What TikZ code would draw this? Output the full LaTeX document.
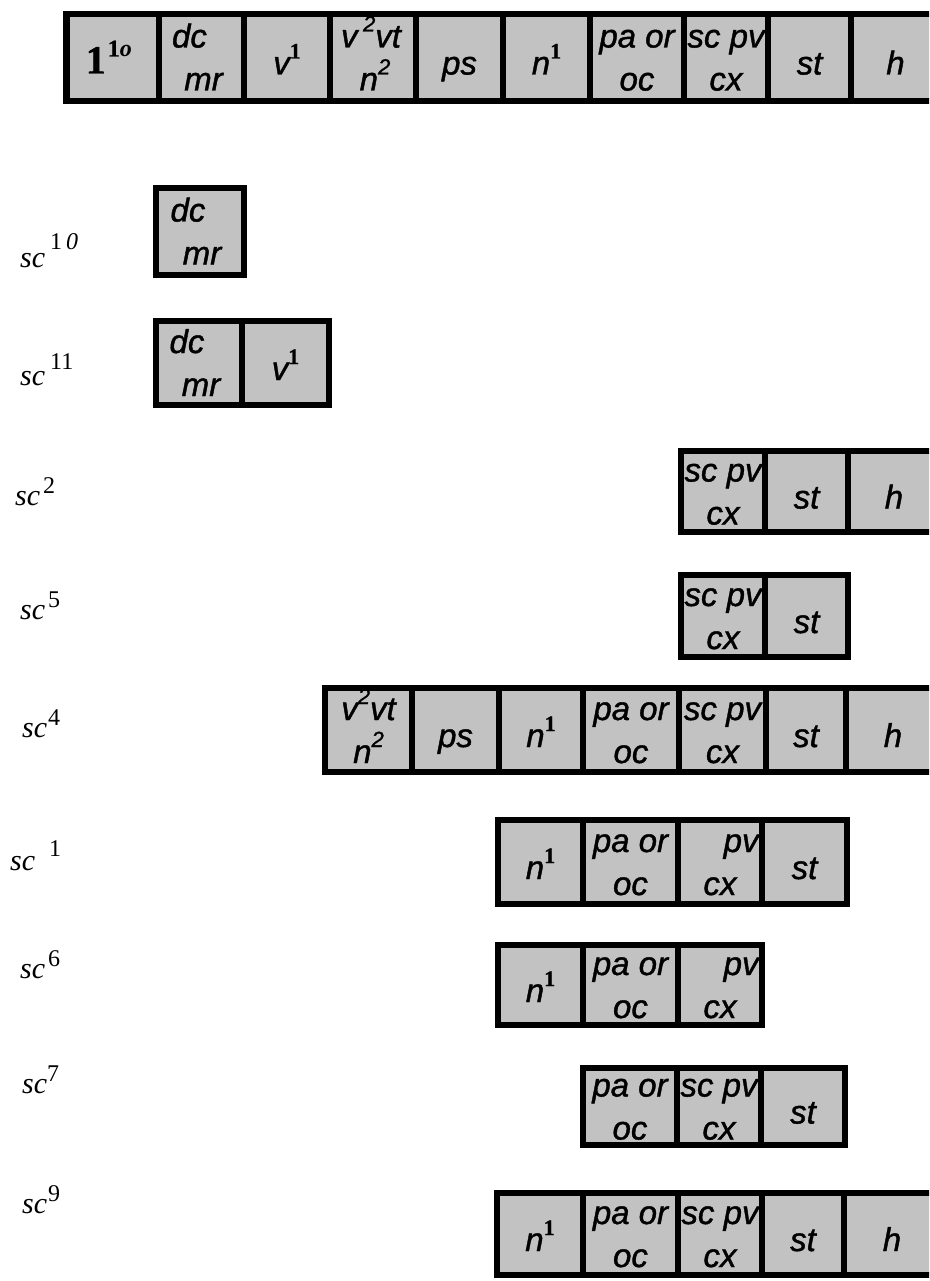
\documentclass[tikz,border=0pt]{standalone}
\usepackage{fontspec}
\setmainfont{Liberation Serif}
\setsansfont{Liberation Sans}
\newfontfamily\cellfam{Liberation Sans}[ItalicFeatures={FakeBold=1.2}]
\newfontfamily\supfam{Liberation Serif}[BoldFeatures={FakeBold=1}]
\definecolor{cellgray}{RGB}{194,194,194}
\newcommand\cellfont{\fontsize{33}{33}\selectfont\cellfam\itshape}
\newcommand\up[1]{\raisebox{16pt}{\fontsize{22}{22}\selectfont #1}}
\newcommand\upone{\up{\supfam\upshape\bfseries 1}}
\newcommand\lsup[2]{\raisebox{#1}{\fontsize{24}{24}\selectfont\upshape #2}}
% cell: name, x1, x2, y1, y2
\newcommand\cel[5]{\node[cellbox, minimum width={(#3-#2)*1pt}, minimum height={(#5-#4)*1pt}] (#1) at ({(#2+#3)/2},{(#4+#5)/2}) {};}
% single line text: [xshift] name text
\newcommand\one[3][0]{\node[ctext] (#2-t) at ([xshift=#1pt,yshift=-17pt]#2.center) {#3};}
% two lines: name, xshift1, line1, xshift2, line2
\newcommand\two[5]{\node[ctext] (#1-a) at ([xshift=#2pt,yshift=10pt]#1.center) {#3};
  \node[ctext] (#1-b) at ([xshift=#4pt,yshift=-33pt]#1.center) {#5};}
\begin{document}
\begin{tikzpicture}[x=1pt,y=-1pt,
  cellbox/.style={draw=black, line width=6.5pt, fill=cellgray, rectangle, inner sep=0pt, outer sep=0pt},
  ctext/.style={anchor=base, inner sep=0pt, font=\cellfont},
  lab/.style={anchor=base west, inner sep=0pt, font=\fontsize{30}{30}\selectfont\rmfamily\itshape}]
\useasboundingbox (0,0) rectangle (929,1281);
\clip (0,0) rectangle (929,1281);
% ---------- top row
\cel{t1}{66.5}{159}{14}{101}
\cel{t2}{159}{244}{14}{101}
\cel{t3}{244}{330}{14}{101}
\cel{t4}{330}{416}{14}{101}
\cel{t5}{416}{503}{14}{101}
\cel{t6}{503}{590}{14}{101}
\cel{t7}{590}{684}{14}{101}
\cel{t8}{684}{768}{14}{101}
\cel{t9}{768}{851}{14}{101}
\cel{t10}{851}{940}{14}{101}
\node[ctext] (t1-t) at ([xshift=-4pt,yshift=-16pt]t1.center) {{\supfam\upshape\bfseries\fontsize{40}{40}\selectfont 1}\hspace{2pt}\raisebox{17pt}{\supfam\upshape\bfseries\fontsize{24}{24}\selectfont 1\textit{o}}};
\two{t2}{-12}{dc}{2}{mr}
\one{t3}{v\upone}
\two{t4}{-2}{v\,\up{2}vt}{2}{n\up{2}}
\one{t5}{ps}
\one{t6}{n\upone}
\two{t7}{0}{pa or}{0}{oc}
\two{t8}{0}{sc pv}{0}{cx}
\one{t9}{st}
\one{t10}{h}
% ---------- sc10
\cel{a1}{156}{244}{188}{275}
\two{a1}{-12}{dc}{2}{mr}
\node[lab] (l10) at (20,267) {sc\hspace{5pt}\lsup{18pt}{1\,\textit{0}}};
% ---------- sc11
\cel{b1}{156}{242}{321}{405}
\cel{b2}{242}{329}{321}{405}
\two{b1}{-12}{dc}{2}{mr}
\one{b2}{v\upone}
\node[lab] (l11) at (20,385) {sc\hspace{5pt}\lsup{16pt}{11}};
% ---------- sc2
\cel{c1}{681}{765}{451}{532}
\cel{c2}{765}{848}{451}{532}
\cel{c3}{848}{940}{451}{532}
\two{c1}{0}{sc pv}{0}{cx}
\one{c2}{st}
\one{c3}{h}
\node[lab] (l2) at (15,505) {sc\hspace{3pt}\lsup{12pt}{2}};
% ---------- sc5
\cel{d1}{681}{765}{575}{657}
\cel{d2}{765}{848}{575}{657}
\two{d1}{0}{sc pv}{0}{cx}
\one{d2}{st}
\node[lab] (l5) at (20,619) {sc\hspace{3pt}\lsup{12pt}{5}};
% ---------- sc4
\cel{e1}{325}{412}{688}{772}
\cel{e2}{412}{499}{688}{772}
\cel{e3}{499}{583}{688}{772}
\cel{e4}{583}{679}{688}{772}
\cel{e5}{679}{766}{688}{772}
\cel{e6}{766}{846}{688}{772}
\cel{e7}{846}{940}{688}{772}
\two{e1}{0}{v\up{2}vt}{0}{n\up{2}}
\one{e2}{ps}
\one{e3}{n\upone}
\two{e4}{0}{pa or}{0}{oc}
\two{e5}{0}{sc pv}{0}{cx}
\one{e6}{st}
\one{e7}{h}
\node[lab] (l4) at (22,737) {sc\hspace{1pt}\lsup{12pt}{4}};
% ---------- sc1
\cel{f1}{498}{583}{820}{904}
\cel{f2}{583}{678}{820}{904}
\cel{f3}{678}{762}{820}{904}
\cel{f4}{762}{847}{820}{904}
\one{f1}{n\upone}
\two{f2}{0}{pa or}{0}{oc}
\two{f3}{0}{\phantom{sc} pv}{0}{cx}
\one{f4}{st}
\node[lab] (l1) at (10,870) {sc\hspace{14pt}\lsup{14pt}{1}};
% ---------- sc6
\cel{g1}{498}{583}{945}{1025}
\cel{g2}{583}{678}{945}{1025}
\cel{g3}{678}{762}{945}{1025}
\one{g1}{n\upone}
\two{g2}{0}{pa or}{0}{oc}
\two{g3}{0}{\phantom{sc} pv}{0}{cx}
\node[lab] (l6) at (20,978) {sc\hspace{3pt}\lsup{12pt}{6}};
% ---------- sc7
\cel{h1}{583}{677}{1068}{1145}
\cel{h2}{677}{761}{1068}{1145}
\cel{h3}{761}{845}{1068}{1145}
\two{h1}{0}{pa or}{0}{oc}
\two{h2}{0}{sc pv}{0}{cx}
\one{h3}{st}
\node[lab] (l7) at (22,1093) {sc\hspace{0pt}\lsup{12pt}{7}};
% ---------- sc9
\cel{k1}{497}{583}{1193}{1275}
\cel{k2}{583}{678}{1193}{1275}
\cel{k3}{678}{762}{1193}{1275}
\cel{k4}{762}{844}{1193}{1275}
\cel{k5}{844}{940}{1193}{1275}
\one{k1}{n\upone}
\two{k2}{0}{pa or}{0}{oc}
\two{k3}{0}{sc pv}{0}{cx}
\one{k4}{st}
\one{k5}{h}
\node[lab] (l9) at (22,1213) {sc\hspace{1pt}\lsup{12pt}{9}};
\end{tikzpicture}
\end{document}
